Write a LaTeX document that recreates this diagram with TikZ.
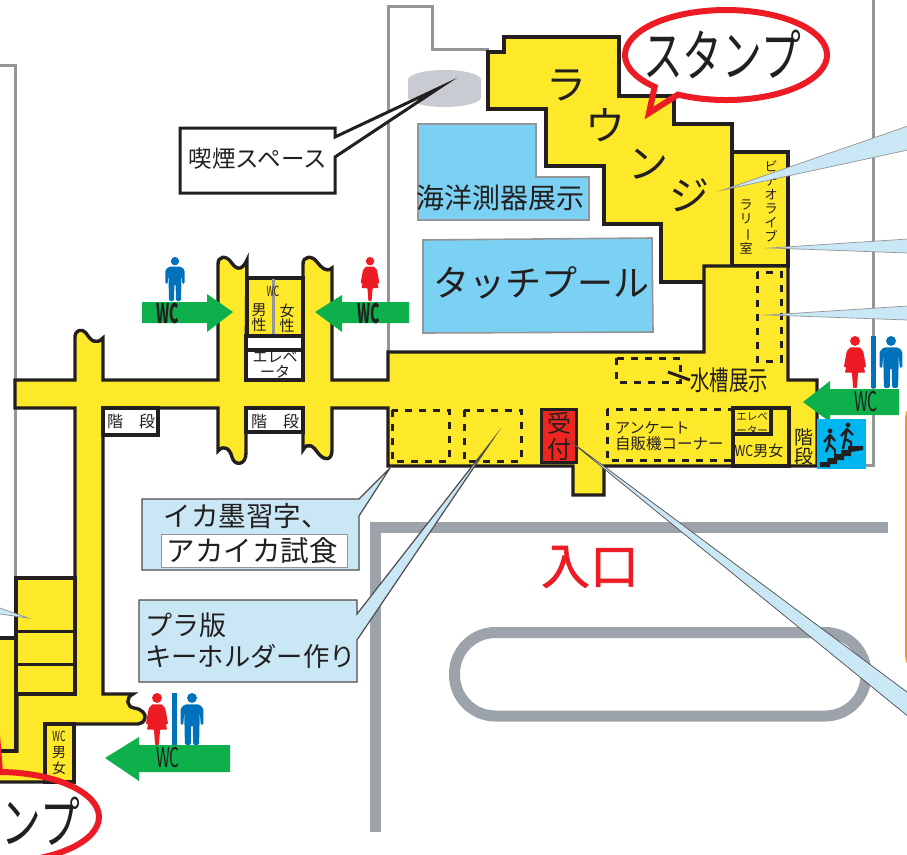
\documentclass[tikz,border=0pt]{standalone}
\usepackage{fontspec}
\usepackage{graphicx}
\newfontfamily\cjk{Noto Sans CJK JP}
\newfontfamily\cjkm[FakeBold=1.2]{Noto Sans CJK JP}
\newcommand\fs[2][1.15]{\cjk\fontsize{#2}{#1\dimexpr #2pt\relax}\selectfont}
\newcommand\vbar{\rotatebox[origin=c]{-90}{ー}}
\definecolor{wall}{HTML}{231F20}
\definecolor{floory}{HTML}{FDE829}
\definecolor{grayline}{HTML}{939598}
\definecolor{pool}{HTML}{7BD1F4}
\definecolor{call}{HTML}{C9E7F4}
\definecolor{wcgreen}{HTML}{0DB04B}
\definecolor{sred}{HTML}{ED1C24}
\definecolor{wcblue}{HTML}{0072BC}
\definecolor{stairc}{HTML}{00B6F0}
\definecolor{park}{HTML}{9DA3AB}
\definecolor{smoke}{HTML}{C9CBD2}
\definecolor{orangeb}{HTML}{F7941D}
\tikzset{
  lbl/.style={inner sep=0pt,text=wall,align=center},
  floorshape/.style={draw=wall,line width=3.4pt,fill=floory,miter limit=6},
  whitebox/.style={draw=wall,line width=3.4pt,fill=white},
  dashbox/.style={draw=wall,line width=3pt,dash pattern=on 7pt off 7pt},
  buildline/.style={draw=grayline,line width=3pt},
  poolbox/.style={draw=grayline,line width=1.6pt,fill=pool},
  tailbox/.style={draw=wall!80,line width=1.2pt,fill=call,miter limit=30},
  thintail/.style={draw=grayline,line width=.7pt,fill=call,miter limit=30},
  parkline/.style={draw=park,line width=11pt},
  arrowg/.style={fill=wcgreen,draw=none},
  stamp/.style={draw=sred,line width=6pt,miter limit=10},
  manicon/.pic={
    \fill[wcblue] (0,4.2) circle (4.2);
    \fill[wcblue,rounded corners=1.4pt] (-6,9.6)--(6,9.6)--(9.6,13)--(9.6,27)--(7.4,27)--(6.6,16)--(6,44)--(1,44)--(.6,27)--(-.6,27)--(-1,44)--(-6,44)--(-6.6,16)--(-7.4,27)--(-9.6,27)--(-9.6,13)--cycle;
  },
  womanicon/.pic={
    \fill[sred] (0,4.2) circle (4.2);
    \fill[sred,rounded corners=.8pt] (-4,9.6)--(4,9.6)--(7,13)--(9.4,26)--(7.4,27)--(5,17)--(8.6,31)--(2.6,31)--(1.6,44)--(-1.6,44)--(-2.6,31)--(-8.6,31)--(-5,17)--(-7.4,27)--(-9.4,26)--(-7,13)--cycle;
  }
}
\begin{document}
\begin{tikzpicture}[x=1pt,y=-1pt]
\useasboundingbox (0,0) rectangle (907,854);
\clip (0,0) rectangle (907,854);
\fill[white] (0,0) rectangle (907,854);
% building lines
\draw[buildline] (0,65)--(15,65)--(15,580);
\draw[buildline] (489,49)--(432,49)--(432,6.5)--(388.5,6.5)--(388.5,354);
\draw[buildline] (873,0)--(873,465)--(855,465);
% car park
\draw[parkline] (369.5,527.5)--(888,527.5);
\draw[parkline] (375,522)--(375,832);
\draw[parkline,rounded corners=41pt] (454.5,632.5) rectangle (866,716);
% orange frame
\draw[draw=orangeb,line width=6pt,rounded corners=12pt] (935,406)--(908,406)--(908,668)--(935,668);
% pools and smoking area
\draw[poolbox] (418,124)--(536,124)--(536,177)--(589,177)--(589,220)--(418,220)--cycle;
\draw[poolbox] (423,240)--(652,238)--(653,332)--(423,333)--cycle;
\fill[smoke] (408,79) .. controls (414,67) and (475,67) .. (481,79) -- (481,98) .. controls (475,110) and (414,110) .. (408,98) -- cycle;
% lounge
\draw[floorshape] (488,52)--(504,52)--(504,37)--(619,37)--(619,96)--(674,96)--(674,124)--(732,124)--(732,282)--(661,282)--(661,224)--(604,224)--(604,166)--(546,166)--(546,109)--(488,109)--cycle;
\draw[floorshape] (732,152)rectangle(788,266);
% main floor
\draw[floorshape] (15,380)--(75,380)--(75,337)
  .. controls (75,330) and (82,328) .. (86,333) .. controls (91,341) and (96,345) .. (103,338)
  --(103,380)--(218,380)--(218,264)
  .. controls (218,256) and (226,255) .. (231,262) .. controls (235,268) and (241,273) .. (247,260)
  --(246,380)--(303,380)--(303,264)
  .. controls (303,256) and (312,255) .. (317,262) .. controls (321,267) and (326,273) .. (332,268)
  --(332,380)--(388,380)--(388,352)--(704,352)--(704,266)--(788,266)--(788,380)--(817,380)--(817,466)--(604,466)--(604,495)--(573,495)--(573,466)--(388,466)--(388,408)--(332,408)--(332,450)
  .. controls (332,462) and (323,460) .. (318,453) .. controls (314,447) and (308,441) .. (303,450)
  --(303,408)--(246,408)--(246,453)
  .. controls (246,466) and (234,466) .. (232,457) .. controls (230,449) and (224,444) .. (218,451)
  --(218,408)--(103,408)--(103,694)--(133,694)
  .. controls (125,698) and (127,707) .. (134,708) .. controls (142,709) and (146,714) .. (145,718) .. controls (144,722) and (141,724) .. (138,724)
  --(73,724)--(73,782)--(-5,782)--(-5,751)--(17,751)--(17,694)--(75,694)--(75,408)--(15,408)--cycle;
% west side rooms
\draw[floorshape] (-5,638)--(16,638)--(16,751)--(-5,751);
\draw[floorshape] (16,578) rectangle (75,694);
\draw[wall,line width=3pt] (16,631)--(75,631) (16,664)--(75,664);
\draw[floorshape] (45,724) rectangle (74,782);
% rooms on the corridor
\draw[floorshape] (247,278) rectangle (303,336);
\draw[draw=grayline,line width=3pt] (273,279)--(273,335);
\draw[whitebox] (246,336) rectangle (303,350);
\draw[whitebox] (246,350) rectangle (303,380);
\draw[whitebox] (246,408) rectangle (303,432);
\draw[whitebox] (103,408) rectangle (158,435);
% dashed areas and east rooms
\draw[dashbox] (392,410) rectangle (449,461);
\draw[dashbox] (464,410) rectangle (521,461);
\draw[dashbox] (607,409) rectangle (732,460);
\draw[dashbox] (616,358) rectangle (680,382);
\draw[dashbox] (757,272) rectangle (781,361);
\draw[draw=wall,line width=3pt,fill=sred!90!orange] (541.5,409.5) rectangle (576,462);
\draw[floorshape] (733,408) rectangle (789,466);
\draw[floorshape] (733,408) rectangle (771,434);
% labels
\node[lbl] (nRa) at (566,85) {\fs{40}ラ};
\node[lbl] (nU) at (605,125) {\fs{40}ウ};
\node[lbl] (nN) at (648,164) {\fs{40}ン};
\node[lbl] (nJi) at (689,195) {\fs{40}ジ};
\node[lbl] (nOcean) at (500,198) {\fs{28}海洋測器展示};
\node[lbl] (nTouch) at (541,283) {\fs{36}タッチプール};
\node[lbl,font={\fs[1.08]{13}}] (nVid) at (771,201) {ビ\\デ\\オ\\ラ\\イ\\ブ};
\node[lbl,font={\fs[1.08]{13}}] (nRally) at (746,227) {ラ\\リ\\\vbar\\室};
\node[lbl] (nTank) at (729,380) {\fs{27}\scalebox{.72}[1]{水槽展示}};
\coordinate (tankPt) at (668,372);
\draw[wall,line width=3pt] (tankPt)--(nTank.west);
\node[lbl,anchor=west] (nAnk) at (615,428) {\fs{15}アンケート};
\node[lbl,anchor=west] (nAuto) at (615,444) {\fs{15.5}自販機コーナー};
\node[lbl] (nElvE) at (752,416.5) {\fs{10.5}エレベ};
\node[lbl] (nElvE2) at (752,430) {\fs{10.5}ーター};
\node[lbl] (nWcE) at (759,451) {\fs{15}\scalebox{.82}[1]{WC}男女};
\node[lbl,font={\fs[1.02]{19}}] (nStE) at (804,447) {階\\段};
\node[lbl,font={\fs[1.08]{24}}] (nRecv) at (559,436) {受\\付};
\node[lbl] (nStW) at (131,421) {\fs{16}階　段};
\node[lbl] (nStC) at (275,421) {\fs{16}階　段};
\node[lbl,font={\fs[.98]{15}}] (nElvC) at (275,365) {エレベ\\ータ};
\node[lbl] (nWcC) at (273,291) {\fs{14}\scalebox{.6}[1]{WC}};
\node[lbl,font={\fs[1.02]{15}}] (nMen) at (259,318) {男\\性};
\node[lbl,font={\fs[1.02]{15}}] (nWom) at (287,318) {女\\性};
\node[lbl,font={\fs[1.13]{14}}] (nWcS) at (59,753) {\scalebox{.62}[1]{WC}\\男\\女};
\node[lbl] (nEntrance) at (590,567) {\cjkm\fontsize{49}{55}\selectfont\color{sred}入口};
% stairs sign
\path[fill=wcgreen] (803,402)--(830,381)--(830,389)--(899,389)--(899,415)--(830,415)--(830,422)--cycle;
\fill[stairc] (817,419) rectangle (866,469);
\fill[wall] (820,467)--(820,462)--(827,462)--(827,458)--(834,458)--(834,454)--(841,454)--(841,450)--(848,450)--(848,446)--(863,446)--(863,450)--(851,452)--(851,456)--(844,456)--(844,460)--(837,460)--(837,464)--(830,464)--(830,467)--cycle;
\fill[wall] (830,431) circle (2.4) (848,425) circle (2.4);
\draw[wall,line width=2.4pt,line join=round]
  (826,452)--(829,444)--(830,435)--(824,442) (830,435)--(835,441) (829,444)--(835,450)--(835,454)
  (843,449)--(845,439)--(847,429)--(841,436) (847,429)--(853,435) (845,439)--(851,442)--(851,448);
% arrows, pictograms
\path[arrowg] (233,312)--(207,294)--(207,302)--(142,302)--(142,323)--(207,323)--(207,332)--cycle;
\path[arrowg] (315,312)--(342,295)--(342,302)--(409,302)--(409,323)--(342,323)--(342,332)--cycle;
\path[arrowg] (105,758)--(139,737)--(139,745)--(230,745)--(230,772)--(139,772)--(139,781)--cycle;
\node[lbl] (nWc1) at (168,313) {\fs{27}\bfseries\scalebox{.52}[1]{WC}};
\node[lbl] (nWc2) at (369,313) {\fs{27}\bfseries\scalebox{.52}[1]{WC}};
\node[lbl] (nWc3) at (168,758) {\fs{27}\scalebox{.58}[1]{WC}};
\node[lbl] (nWc4) at (866,402) {\fs{27}\scalebox{.58}[1]{WC}};
\pic at (175,257) {manicon};
\pic at (370,257) {womanicon};
\pic[scale=1.18] at (855,336) {womanicon};
\pic[scale=1.18] at (891,336) {manicon};
\fill[wcblue] (870.5,336) rectangle (875.5,388);
\pic[scale=1.18] at (157,693) {womanicon};
\pic[scale=1.18] at (192,693) {manicon};
\fill[wcblue] (172,693) rectangle (177,745);
% smoking callout
\draw[draw=wall,line width=3pt,fill=white,miter limit=40] (180,128)--(335,128)--(335,137)--(439,88)--(335,157)--(335,193)--(180,193)--cycle;
\node[lbl] (nSmoke) at (258,159) {\fs{23.5}喫煙スペース};
% pale blue callouts
\draw[thintail] (908,126)--(723,190)--(908,150);
\draw[thintail] (908,239)--(770,248)--(908,253);
\draw[thintail] (908,306)--(768,315)--(908,320);
\draw[thintail] (0,608)--(28,618)--(0,614);
\draw[tailbox,line width=.7pt] (570,441)--(915,698)--(915,722)--cycle;
\draw[tailbox] (142,499)--(359,499)--(390,468)--(359,516)--(359,570)--(142,570)--cycle;
\draw[draw=grayline,line width=1pt,fill=white] (161,534) rectangle (347,567);
\node[lbl] (nIka) at (246,516) {\fs{27.5}イカ墨習字、};
\node[lbl] (nIka2) at (252,551) {\fs{28.5}アカイカ試食};
\draw[tailbox] (139,600)--(357,600)--(357,614)--(491,442)--(357,640)--(357,682)--(139,682)--cycle;
\node[lbl,anchor=west] (nPla) at (145,625) {\fs{27}プラ版};
\node[lbl,anchor=west] (nKey) at (145,656) {\fs{26.3}キーホルダー作り};
% stamps
\draw[stamp] (678,94.6) arc[start angle=241.6,end angle=585,x radius=101pt,y radius=45pt] -- (649,113) -- cycle;
\node[lbl] (nStamp) at (722,54) {\fs{56}\scalebox{.71}[1]{スタンプ}};
\draw[stamp] (-2,817) ellipse [x radius=101,y radius=45];
\draw[stamp] (-3,735)--(0,772);
\node[lbl] (nStamp2) at (41,821) {\fs{56}\scalebox{.71}[1]{ンプ}};
\end{tikzpicture}
\end{document}
